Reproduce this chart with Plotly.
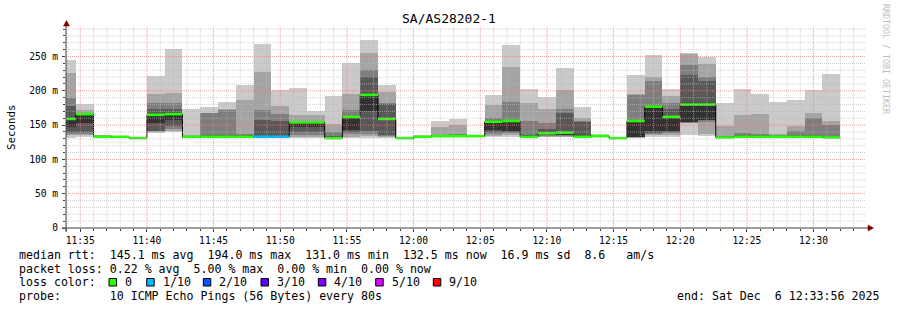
import pandas as pd
import numpy as np
import plotly.graph_objects as go

# ---------------- data ----------------
title = "SA/AS28202-1"
first_step = "2025-12-06 11:33:20"      # start of first 80 s RRD step
step_seconds = 80
view_start = "2025-12-06 11:33:56"
view_end = "2025-12-06 12:33:56"

# 10 pings per step, sorted ascending (ms)
ping01 = [131,132,131,132,130,139,140,131,131,131,131,131,131,131,131,130,131,131,131,130,132,132,132,132,132,133,132,132,132,131,132,130,131,133,133,135,134,131,132,132,132,132,132,131]
ping02 = [136,136,131.5,132,130,140,142,131.5,132,132,132,131.5,131.5,133,133,130.5,133,134,133,130,132,132.5,132.5,132.5,134,135,132.5,133,133,132,132.5,130,131.5,135,136,153,137,131.5,132.5,132.5,132.5,132.5,132.5,131.5]
ping03 = [137,137,132,132.5,130.5,141,144,132,132.5,132.5,132.5,132,132,135,135,131,137,137,134,130.5,132.5,133,133,133,137,138,133,134,134,133,133,130.5,132,137,138,153.5,155,132,133,133,133,133,133,132]
ping04 = [140,140,132.5,133,131,142,148,132.5,133,133,133,132.5,132.5,140,140,131.5,140,141,135,131,133,133,133.5,133.5,140,140,133.5,135,135,134,133,131,132,139,140,154,157,132.5,133.5,133.5,133,133.5,133.5,132.5]
ping05 = [147,153,133,133,131,153,157,133,133.5,133.5,133.5,133,133,147,147,132,143,170,158.5,131,133,133.5,134,134,143,142,134,136,136,134.5,133.5,131,132,141,142,154.5,158,133,134,134,133.5,134,134,133]
ping06 = [160,166,133.5,133.5,131.5,165,166,133.5,134,134,134,133.5,134,154,154,132.5,162,193,159.5,131.5,133.5,134,134.5,134,155,156,134.5,137,139,135,134,131.5,155,178,162,182,182,133,134,134,134,134,134,133]
ping07 = [178,167,134,133.5,131.5,173,174,134,135,136,135,158,156,155,155,133,163,220,181,131.5,133.5,134,135,134.5,157,157,135,145,168,155,134.5,131.5,157,180,174,223,215,133.5,135,135,134,135,135.5,133.5]
ping08 = [190,168,134.5,134,132,182,182,134.5,167,172,137,172,166,156,156,140,172,230,182,132,134,134.5,137,135,161,184,156,153,174,156,135,132,194,215,182,238,220,134,139,137,135,142,161,150]
ping09 = [226,172,135,134,132,196,197,136,168,173,186,228,178,165,165,152,195,255,199,132.5,134.5,147,150,135.5,180,235,182,173,201,160,136,132.5,195,220,192,254,239,149,165,166,137,149,167,156]
ping10 = [245,181,136,134.5,132.5,222,261,173,176,183,208,268,201,204,171,192,241,274,208,133,135,156,159,136,194,267,203,191,233,177,137,133,223,252,203,255,250,182,203,195,183,186,201,224]

median_ms = [159,166,133,133,131,165,166,133,133,133,133,133,133,154,154,131,162,194,159,131,133,134,134,134,155,156,133,138,139,133,134,131,156,177,162,180,180,132,133,133,133,133,133,132]
loss_tenths = [0,0,0,0,0,0,0,0,0,0,0,1,1,0,0,0,0,0,0,0,0,0,0,0,0,0,0,0,0,0,0,0,0,0,0,0,0,0,0,0,0,0,0,0]

y_tick_vals = [0, 50, 100, 150, 200, 250]
y_tick_text = ["0", "50 m", "100 m", "150 m", "200 m", "250 m"]

loss_levels = [0, 1, 2, 3, 4, 5, 9]
loss_labels = ["0", "1/10", "2/10", "3/10", "4/10", "5/10", "9/10"]
loss_colors = ["#26ff00", "#00b8ff", "#0059ff", "#5e00ff", "#7e00ff", "#dd00ff", "#ff0000"]

stat_line1 = "median rtt:  145.1 ms avg  194.0 ms max  131.0 ms min  132.5 ms now  16.9 ms sd  8.6   am/s"
stat_line2 = "packet loss: 0.22 % avg  5.00 % max  0.00 % min  0.00 % now"
stat_line3 = "loss color:"
stat_line4 = "probe:       10 ICMP Echo Pings (56 Bytes) every 80s"
end_text = "end: Sat Dec  6 12:33:56 2025"
side_text = "RRDTOOL / TOBI OETIKER"

smoke_colors = ["#cacaca", "#a4a4a4", "#7e7e7e", "#585858", "#323232"]

# ---------------- layout geometry (pixels) ----------------
FIG_W, FIG_H = 897, 310
L, T, PW, PH = 66, 26, 800, 202
MONO = "DejaVu Sans Mono"


def px(x):
    return (x - L) / PW


def py(y):
    return (T + PH - y) / PH


def nb(s):
    return s.replace(" ", "\u00a0")


pings = np.array([ping01, ping02, ping03, ping04, ping05,
                  ping06, ping07, ping08, ping09, ping10], dtype=float)
n = pings.shape[1]
starts = pd.date_range(first_step, periods=n, freq=f"{step_seconds}s")
ends = starts + pd.Timedelta(seconds=step_seconds)

fig = go.Figure()

# smoke layers: outer pair first, innermost last
for i in range(5):
    lo = pings[i]
    hi = pings[9 - i]
    fig.add_trace(go.Bar(
        x=starts, y=hi - lo, base=lo,
        width=step_seconds * 1000, offset=0,
        marker=dict(color=smoke_colors[i], line=dict(width=0)),
        hoverinfo="skip", showlegend=False,
    ))

# black median step line
fig.add_trace(go.Scatter(
    x=list(starts) + [ends[-1]], y=median_ms + [median_ms[-1]],
    mode="lines", line=dict(color="#000000", width=1, shape="hv"),
    hoverinfo="skip", showlegend=False,
))

# loss-coloured median segments
for lvl, col in zip(loss_levels, loss_colors):
    xs, ys = [], []
    for k in range(n):
        if loss_tenths[k] == lvl:
            xs += [starts[k], ends[k], None]
            ys += [median_ms[k], median_ms[k], None]
    if xs:
        fig.add_trace(go.Scatter(
            x=xs, y=ys, mode="lines",
            line=dict(color=col, width=2.6),
            hoverinfo="skip", showlegend=False,
        ))

shapes = []
grid_minor = "rgba(185,185,185,0.65)"
grid_major = "rgba(240,125,125,0.75)"
vmin = pd.Timestamp(view_start).ceil("min")
for t in pd.date_range(vmin, view_end, freq="1min"):
    major = (t.minute % 5 == 0)
    shapes.append(dict(type="line", xref="x", yref="paper", x0=t, x1=t, y0=0, y1=1,
                       layer="above",
                       line=dict(color=grid_major if major else grid_minor, width=1, dash="1px,1px")))
for v in range(10, 300, 10):
    major = (v % 50 == 0)
    shapes.append(dict(type="line", xref="paper", yref="y", x0=0, x1=1, y0=v, y1=v,
                       layer="above",
                       line=dict(color=grid_major if major else grid_minor, width=1, dash="1px,1px")))

# axis lines
axis_col = "#404040"
shapes.append(dict(type="line", xref="paper", yref="paper", x0=px(62), x1=px(869), y0=py(228), y1=py(228),
                   layer="above", line=dict(color=axis_col, width=1)))
shapes.append(dict(type="line", xref="paper", yref="paper", x0=px(66), x1=px(66), y0=py(232), y1=py(24),
                   layer="above", line=dict(color=axis_col, width=1)))
# arrows
arrow_col = "#7f0000"
shapes.append(dict(type="path", xref="paper", yref="paper", layer="above",
                   path=f"M {px(63.5)} {py(26)} L {px(66.5)} {py(20.5)} L {px(69.5)} {py(26)} Z",
                   fillcolor=arrow_col, line=dict(color=arrow_col, width=0.5)))
shapes.append(dict(type="path", xref="paper", yref="paper", layer="above",
                   path=f"M {px(868)} {py(225)} L {px(873.5)} {py(228)} L {px(868)} {py(231)} Z",
                   fillcolor=arrow_col, line=dict(color=arrow_col, width=0.5)))

annotations = []


def text(x, y, s, size=11.6, xanchor="left", color="#000000", angle=0):
    annotations.append(dict(xref="paper", yref="paper", x=px(x), y=py(y), text=nb(s),
                            showarrow=False, xanchor=xanchor, yanchor="middle",
                            textangle=angle,
                            font=dict(family=MONO, size=size, color=color)))


text(448.5, 19, title, size=13, xanchor="center")
text(11, 127, "Seconds", size=10.8, xanchor="center", angle=-90)
text(886, 59, side_text, size=8.3, xanchor="center", color="#bdbdbd", angle=90)
text(16.5, 255, stat_line1)
text(16.5, 268.5, stat_line2)
text(16.5, 282, stat_line3)
text(16.5, 296, stat_line4)
text(880.5, 296, end_text, xanchor="right")

sq_x = [109, 146.7, 203.3, 261, 318.3, 375.7, 433.3]
for sx, lab, col in zip(sq_x, loss_labels, loss_colors):
    shapes.append(dict(type="rect", xref="paper", yref="paper",
                       x0=px(sx), x1=px(sx + 7.5), y0=py(286), y1=py(278.5),
                       fillcolor=col, line=dict(color="#000000", width=1)))
    text(sx + 14, 282, lab)

fig.update_layout(
    width=FIG_W, height=FIG_H,
    margin=dict(l=L, r=FIG_W - L - PW, t=T, b=FIG_H - T - PH, pad=0),
    paper_bgcolor="#ffffff", plot_bgcolor="#ffffff",
    barmode="overlay", bargap=0,
    showlegend=False,
    shapes=shapes, annotations=annotations,
    xaxis=dict(
        type="date", range=[view_start, view_end],
        tickformat="%H:%M", dtick=300000, tick0="2025-12-06 11:35:00",
        showgrid=False, zeroline=False, showline=False,
        ticks="outside", ticklen=3, tickcolor=axis_col,
        minor=dict(dtick=60000, ticks="outside", ticklen=2, tickcolor=axis_col, showgrid=False),
        tickfont=dict(family=MONO, size=9.6, color="#000000"),
        fixedrange=True,
    ),
    yaxis=dict(
        range=[0, 294.5],
        tickvals=y_tick_vals, ticktext=y_tick_text,
        showgrid=False, zeroline=False, showline=False,
        ticks="outside", ticklen=3, tickcolor=axis_col,
        minor=dict(dtick=10, ticks="outside", ticklen=2, tickcolor=axis_col, showgrid=False),
        tickfont=dict(family=MONO, size=9.6, color="#000000"),
        ticklabelstandoff=2,
        fixedrange=True,
    ),
)

fig.write_html("out.html")
